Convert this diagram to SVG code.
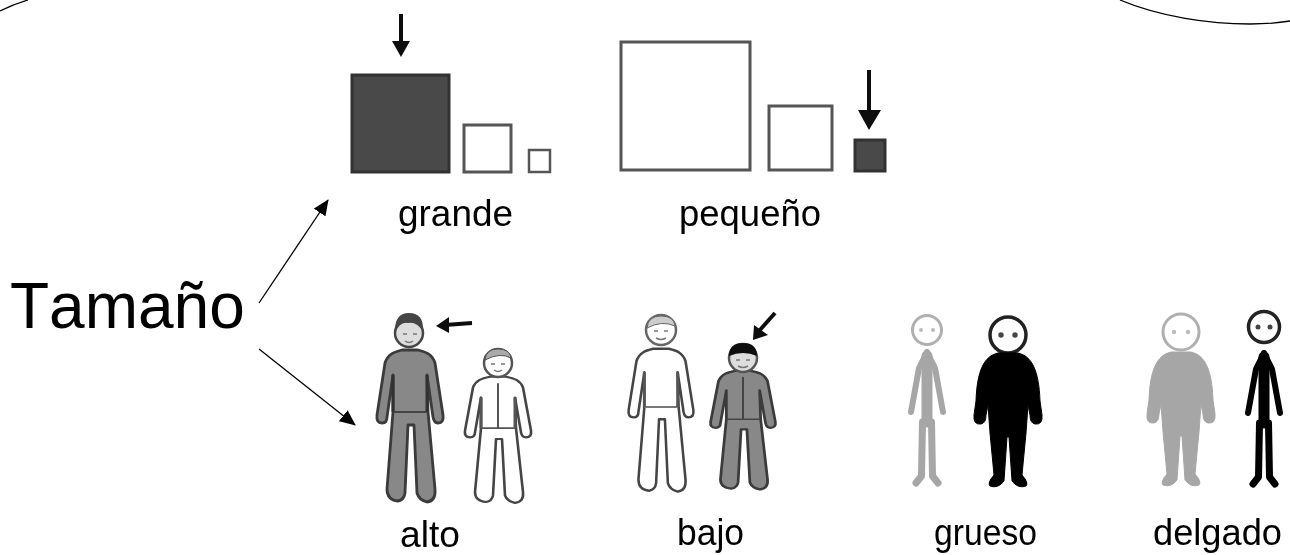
<svg xmlns="http://www.w3.org/2000/svg" width="1290" height="555" viewBox="0 0 1290 555">
<style>
text{font-family:"Liberation Sans",Arial,sans-serif;fill:#000}
.lbl{font-size:36.5px}
.line{fill:none;stroke:#000;stroke-width:1.3}
.sq{fill:#fff;stroke:#555}
.dk{fill:#484848;stroke:#333}
.ptr{stroke:#111;stroke-width:4;fill:none}
.ph{fill:#111}
.gm{stroke:#3a3a3a;stroke-width:2.8;stroke-linejoin:round}
.wm{stroke:#444;stroke-width:2.6;stroke-linejoin:round;fill:#fff}
.grey{fill:#a6a6a6;stroke:#a6a6a6}
.blk{fill:#000;stroke:#000}
.st{fill:none;stroke-linecap:round;stroke-linejoin:round}
.face{fill:none;stroke:#777;stroke-width:1.5}
</style>
<defs>
<marker id="ah" markerWidth="16" markerHeight="14" refX="15" refY="7" orient="auto" markerUnits="userSpaceOnUse"><path d="M0 0L16 7L0 14Z" fill="#000"/></marker>
<filter id="soft" x="-10%" y="-10%" width="120%" height="120%"><feGaussianBlur stdDeviation="0.65"/></filter>
<path id="man" d="M-8 37C-16 39-22 41-25 50L-33 102Q-34 110-28 110Q-23 110-23 104L-17 62L-17 99L-23 176Q-23 187-12 188Q-6 187-5 180L-2 112L4 112L7 180Q9 187 17 189Q26 188 25 176L18 99L17 62L23 104Q24 110 28 110Q34 110 33 102L25 50C22 41 16 39 8 37Z"/>
<path id="fat" d="M-10 0C-24 3-31 18-32 48L-34 62Q-35 72-27 71Q-22 70-22 62L-20 52L-18 80L-14 122Q-21 130-18 133Q-10 136-4 128L-1 84L1 84L4 128Q10 136 18 133Q21 130 14 122L18 80L20 52L22 62Q22 70 27 71Q35 72 34 62L32 48C31 18 24 3 10 0Z"/>
<g id="thin" class="st"><path d="M0 6L-8 22L-16 66M0 6L8 22L16 66" stroke-width="6"/><path d="M0 10V76" stroke-width="11"/><path d="M-4.500 76L-5.500 130L-11 137M4.500 76L5.500 130L11 137" stroke-width="7"/></g>
</defs>
<g id="corners" class="line">
<path d="M0 11C8 7 18 3 28 0"/>
<path d="M1120 0C1160 17 1210 24 1250 24Q1272 24 1290 21"/>
</g>
<g id="connectors" class="line">
<path d="M259 303L328 200" marker-end="url(#ah)"/>
<path d="M259 349L355 425" marker-end="url(#ah)"/>
</g>
<g id="tamano"><text x="10" y="328" style="font-size:64px;font-kerning:none">Tamaño</text></g>
<g filter="url(#soft)">
<g id="grande">
<rect class="dk" x="352" y="75" width="97" height="97" stroke-width="3"/>
<rect class="sq" x="464" y="125" width="47" height="47" stroke-width="3"/>
<rect class="sq" x="529" y="150" width="21" height="22" stroke-width="2.5"/>
<path class="ptr" d="M401 14V42"/><path class="ph" d="M392 41H410L401 57Z"/>
</g>
<g id="pequeno">
<rect class="sq" x="621" y="42" width="129" height="128" stroke-width="3"/>
<rect class="sq" x="769" y="106" width="63" height="64" stroke-width="3"/>
<rect class="dk" x="855" y="140" width="30" height="31" stroke-width="3"/>
<path class="ptr" d="M869 70V112"/><path class="ph" d="M858 110H881L869 130Z"/>
</g>
<g id="alto">
<g transform="translate(410 313)"><use href="#man" class="gm" fill="#888"/><path d="M-17 99H17" stroke="#444" stroke-width="2"/><path d="M-17 62V99M17 62V99" stroke="#333" stroke-width="3"/><circle cx="-1" cy="20" r="14" fill="#ddd" stroke="#444" stroke-width="2.500"/><path d="M-15 20Q-16 0-1 0Q14 0 13 18Q6 8-2 10Q-10 8-15 20Z" fill="#444"/><path class="face" d="M-7 21H-3M3 21H7M-5 28Q-1 31 3 28"/></g>
<path class="ptr" d="M472 323L445 325"/><path class="ph" d="M436 326L449 317L449 333Z"/>
<g transform="translate(498 346) scale(1 .83)"><use href="#man" class="wm"/><path d="M-17 99H17M0 45V99" stroke="#555" stroke-width="2"/><path d="M-17 62V99M17 62V99" stroke="#555" stroke-width="3"/></g>
<circle cx="498" cy="363" r="14" fill="#fff" stroke="#555" stroke-width="2.500"/><path d="M485 360Q486 349 498 349Q510 349 511 358Q500 352 485 360Z" fill="#aaa" stroke="#555"/><path class="face" d="M491 364H495M501 364H505M494 370Q498 373 502 370"/>
</g>
<g id="bajo">
<g transform="translate(661 314) scale(.98 .94)"><use href="#man" class="wm"/><path d="M-17 99H17" stroke="#777" stroke-width="2"/><path d="M-17 62V99M17 62V99" stroke="#555" stroke-width="3"/></g>
<circle cx="661" cy="330" r="15" fill="#fff" stroke="#666" stroke-width="2.500"/><path d="M647 328Q648 316 661 316Q674 316 675 326Q662 320 647 328Z" fill="#ccc" stroke="#666"/><path class="face" d="M654 331H658M664 331H668M656 338Q661 341 666 338"/>
<path class="ptr" d="M775 313L759 331"/><path class="ph" d="M753 340L754 325L768 335Z"/>
<g transform="translate(743 342) scale(.98 .78)"><use href="#man" class="gm" fill="#888"/><path d="M-17 99H17M0 45V99" stroke="#444" stroke-width="2"/></g>
<circle cx="743" cy="358" r="14" fill="#ddd" stroke="#555" stroke-width="2.500"/><path d="M729 356Q729 343 743 343Q757 343 757 356Q743 350 729 356Z" fill="#111"/><path class="face" d="M736 360H740M746 360H750M738 366Q743 369 748 366"/>
</g>
<g id="grueso">
<circle cx="927" cy="330" r="14.500" fill="#fff" stroke="#b0b0b0" stroke-width="3"/>
<circle cx="921" cy="330" r="2" fill="#bbb"/><circle cx="933" cy="330" r="2" fill="#bbb"/>
<use href="#thin" x="927" y="346" stroke="#a6a6a6"/>
<circle cx="1008" cy="335" r="18" fill="#fff" stroke="#222" stroke-width="3.500"/>
<circle cx="1001" cy="335" r="2.700" fill="#444"/><circle cx="1015" cy="335" r="2.700" fill="#444"/>
<g transform="translate(1008 353)"><use href="#fat" class="blk"/></g>
</g>
<g id="delgado">
<circle cx="1181" cy="332" r="18" fill="#fff" stroke="#b0b0b0" stroke-width="3"/>
<circle cx="1174" cy="332" r="2.200" fill="#bbb"/><circle cx="1188" cy="332" r="2.200" fill="#bbb"/>
<g transform="translate(1181 352)"><use href="#fat" class="grey"/></g>
<circle cx="1264" cy="327" r="15.500" fill="#fff" stroke="#222" stroke-width="3.500"/>
<circle cx="1258" cy="327" r="2.500" fill="#444"/><circle cx="1270" cy="327" r="2.500" fill="#444"/>
<use href="#thin" x="1264" y="347" stroke="#000"/>
</g>
</g>
<text class="lbl" x="398" y="226" textLength="115" lengthAdjust="spacingAndGlyphs">grande</text>
<text class="lbl" x="679" y="226" textLength="142" lengthAdjust="spacingAndGlyphs">pequeño</text>
<text class="lbl" x="400" y="547" textLength="60" lengthAdjust="spacingAndGlyphs">alto</text>
<text class="lbl" x="677" y="545" textLength="67" lengthAdjust="spacingAndGlyphs">bajo</text>
<text class="lbl" x="934" y="545" textLength="103" lengthAdjust="spacingAndGlyphs">grueso</text>
<text class="lbl" x="1153" y="545" textLength="129" lengthAdjust="spacingAndGlyphs">delgado</text>
</svg>
